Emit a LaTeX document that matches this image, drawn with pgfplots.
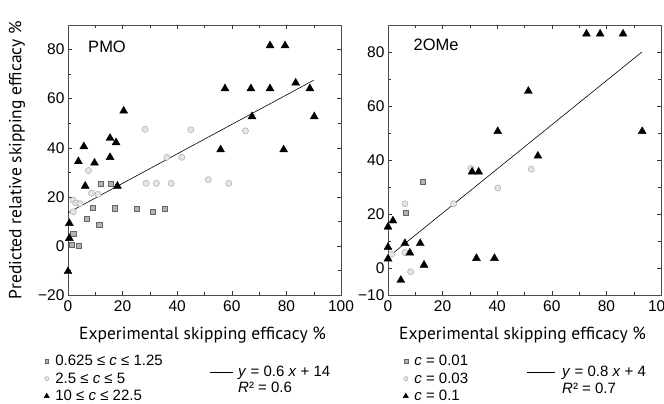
\documentclass[border=0pt]{standalone}
\usepackage{fontspec}
\setmainfont{Liberation Sans}
\newfontfamily\labfont{PT Sans}
\usepackage{pgfplots}
\pgfplotsset{compat=1.18}

\pgfplotsset{
  panel/.style={
    scale only axis, width=273bp, height=270bp,
    xmin=0, xmax=100,
    xtick={0,20,40,60,80,100},
    xticklabels={0,20,40,60,80,100},
    minor xtick={10,30,50,70,90},
    tick align=inside,
    tick style={black!80, line width=0.4pt},
    major tick length=4bp, minor tick length=3bp,
    axis line style={black!70, line width=0.6pt},
    tick label style={font=\fontsize{15.5bp}{17bp}\selectfont},
    xticklabel style={yshift=-2bp},
    xlabel={Experimental skipping efficacy \%},
    xlabel style={font=\labfont\fontsize{17.5bp}{20bp}\selectfont,
      at={(axis description cs:0.493,0)}, anchor=base, yshift=-44bp},
    legend style={draw=none, fill=none, font=\fontsize{15bp}{17bp}\selectfont,
      anchor=north west, row sep=1.5bp, inner sep=0pt, column sep=4bp,
      legend cell align=left},
  },
  sq/.style={only marks, mark=square*, mark size=2.6bp,
    mark options={fill=gray!60, draw=black!60, line width=0.4pt},
    legend image code/.code={\draw[##1, mark size=1.9bp] plot coordinates {(0bp,0bp)};}},
  ci/.style={only marks, mark=*, mark size=3.1bp,
    mark options={fill=gray!20, draw=gray!65, line width=0.5pt},
    legend image code/.code={\draw[##1, mark size=2.1bp] plot coordinates {(0bp,0bp)};}},
  tr/.style={only marks, mark=triangle*, mark size=4.6bp,
    mark options={fill=black, draw=black},
    legend image code/.code={\draw[##1, mark size=3bp] plot coordinates {(0bp,0bp)};}},
}

\begin{document}
\begin{tikzpicture}
\useasboundingbox (-68bp,-109bp) rectangle (596bp,295bp);

% PMO
\begin{axis}[panel, name=L, at={(0bp,0bp)}, anchor=south west,
  ymin=-20, ymax=90,
  ytick={-20,0,20,40,60,80}, yticklabels={−20,0,20,40,60,80},
  minor ytick={-10,10,30,50,70,90},
  ylabel={Predicted relative skipping efficacy \%},
  ylabel style={font=\labfont\fontsize{17.5bp}{20bp}\selectfont,
    at={(axis description cs:-0.187,0.5)}, anchor=center},
  legend style={at={(-0.088,-0.215)}},
]
\addplot[sq] coordinates {
  (1.3,0.4) (3.8,0) (1.9,5.1) (6.8,11.2) (11.4,8.5) (9,15.6) (17.1,15.4)
  (25.2,15.2) (31,13.9) (35.5,15.2) (11.9,25.3) (15.6,25.5)
};
\addlegendentry{0.625 ≤ \textit{c} ≤ 1.25}
\addplot[ci] coordinates {
  (1.9,18.6) (2.9,17.5) (4.4,17.2) (1.9,13.9) (7.5,30.7) (8.6,21.5) (11,21)
  (28.2,47.5) (28.6,25.5) (32.4,25.5) (37.8,25.5) (36.2,36.1) (41.7,36.1)
  (45,47.3) (51.4,27) (58.9,25.5) (65,46.9)
};
\addlegendentry{2.5 ≤ \textit{c} ≤ 5}
\addplot[tr] coordinates {
  (0,-10.4) (0.5,3.1) (0.5,9.2) (3.8,34.4) (5.8,40.5) (6.3,24.4) (9.7,33.8)
  (15.4,43.9) (15.4,36.1) (17.6,42.1) (18.1,24.4) (20.4,55) (55.9,39.2)
  (57.5,64.1) (67,64.1) (67.4,52.7) (74,81.6) (74,64.1) (79.5,81.6)
  (79,39.2) (83.4,66.4) (88.6,64.1) (90.2,52.7)
};
\addlegendentry{10 ≤ \textit{c} ≤ 22.5}
\addplot[black, line width=0.6pt, forget plot] coordinates {(0,13.5) (90,67.5)};
\node[font=\fontsize{16.5bp}{18bp}\selectfont] at (axis cs:14.3,81.2) {PMO};
\end{axis}

% 2OMe
\begin{axis}[panel, name=R, at={(320bp,0bp)}, anchor=south west,
  ymin=-10, ymax=90,
  ytick={-10,0,20,40,60,80}, yticklabels={−10,0,20,40,60,80},
  minor ytick={10,30,50,70,90},
  legend style={at={(0.055,-0.215)}},
]
\addplot[sq] coordinates {(6.6,20.5) (12.7,31.9)};
\addlegendentry{\textit{c} = 0.01}
\addplot[ci] coordinates {
  (6.2,23.8) (24,23.8) (30.4,36.9) (40.2,29.6) (52.5,36.6) (6.2,5.7)
  (1.3,5.1) (8.3,-1.4)
};
\addlegendentry{\textit{c} = 0.03}
\addplot[tr] coordinates {
  (0,15.2) (1.8,17.5) (0,7.7) (0,3.4) (6.2,9.1) (8,5.6) (11.8,9.1)
  (13.2,1.1) (4.7,-4.5) (30.8,35.6) (33.2,35.6) (32.4,3.6) (39,3.6)
  (40.2,50.6) (51.4,65.5) (54.9,41.5) (72.7,86.7) (77.7,86.7) (86.1,86.7)
  (93.1,50.6)
};
\addlegendentry{\textit{c} = 0.1}
\addplot[black, line width=0.6pt, forget plot] coordinates {(0,4) (93,80)};
\node[font=\fontsize{16.5bp}{18bp}\selectfont] at (axis cs:17.6,82.6) {2OMe};
\end{axis}

% regression-line keys
\begin{scope}[font=\fontsize{15bp}{17bp}\selectfont]
\draw[black, line width=0.5pt] (142bp,-77bp) -- (165bp,-77bp);
\node[anchor=base west, inner sep=0pt] at (170bp,-81bp) {\textit{y} = 0.6 \textit{x} + 14};
\node[anchor=base west, inner sep=0pt] at (170bp,-97bp) {\textit{R}² = 0.6};
\draw[black, line width=0.5pt] (459bp,-77bp) -- (487bp,-77bp);
\node[anchor=base west, inner sep=0pt] at (494bp,-81bp) {\textit{y} = 0.8 \textit{x} + 4};
\node[anchor=base west, inner sep=0pt] at (494bp,-98bp) {\textit{R}² = 0.7};
\end{scope}
\end{tikzpicture}
\end{document}
